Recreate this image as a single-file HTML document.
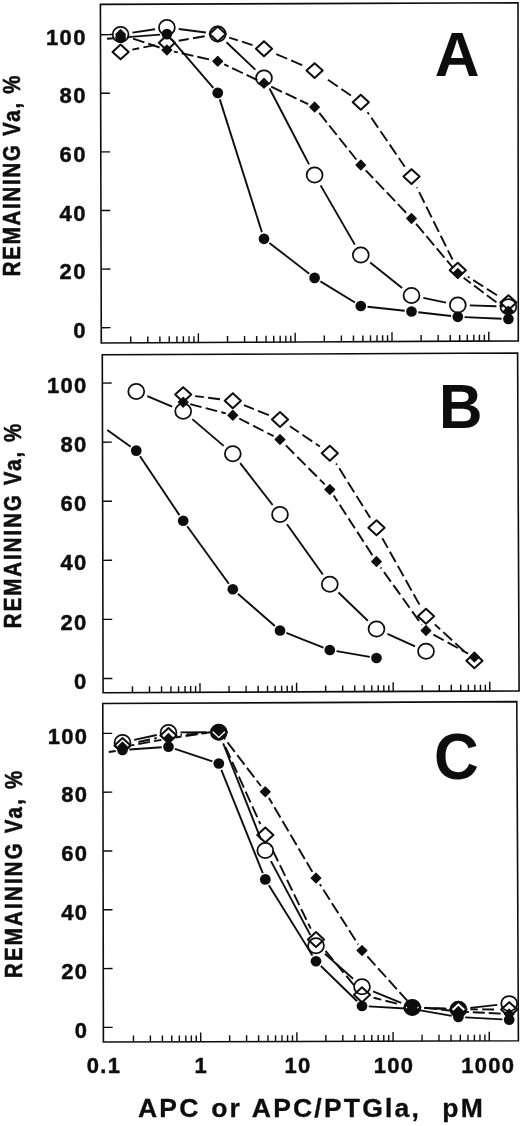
<!DOCTYPE html>
<html><head><meta charset="utf-8"><title>Figure</title>
<style>
html,body{margin:0;padding:0;background:#fff;}
body{width:520px;height:1126px;overflow:hidden;}
svg{display:block;will-change:transform;}
text{font-family:"Liberation Sans", sans-serif;font-weight:bold;fill:#0c0c0c;}
text{stroke:#0c0c0c;stroke-width:0.45px;stroke-linejoin:round;}
.tl{font-size:22px;letter-spacing:1.3px;}
.xl{font-size:22px;letter-spacing:1.3px;}
.pl{font-size:64px;stroke-width:0;}
.yt{font-size:24px;stroke-width:0.6px;}
.xt{font-size:26.5px;letter-spacing:2.2px;word-spacing:1.1px;stroke-width:0.3px;}
</style></head><body>
<svg width="520" height="1126" viewBox="0 0 520 1126">
<defs><filter id="soft" x="0" y="0" width="520" height="1126" filterUnits="userSpaceOnUse"><feGaussianBlur stdDeviation="0.4"/></filter></defs>
<rect width="520" height="1126" fill="#fff"/>
<g filter="url(#soft)">
<polygon points="100.40,4.40 518.00,2.80 518.30,340.90 101.30,343.00" fill="none" stroke="#0c0c0c" stroke-width="1.60" stroke-linejoin="miter"/>
<line x1="101.26" y1="327.70" x2="110.56" y2="327.65" stroke="#0c0c0c" stroke-width="1.4"/>
<text x="86.70" y="337.80" text-anchor="end" class="tl">0</text>
<line x1="101.10" y1="269.10" x2="110.40" y2="269.05" stroke="#0c0c0c" stroke-width="1.4"/>
<text x="86.70" y="279.20" text-anchor="end" class="tl">20</text>
<line x1="100.95" y1="210.50" x2="110.25" y2="210.45" stroke="#0c0c0c" stroke-width="1.4"/>
<text x="86.70" y="220.60" text-anchor="end" class="tl">40</text>
<line x1="100.79" y1="151.90" x2="110.09" y2="151.85" stroke="#0c0c0c" stroke-width="1.4"/>
<text x="86.70" y="162.00" text-anchor="end" class="tl">60</text>
<line x1="100.64" y1="93.30" x2="109.94" y2="93.25" stroke="#0c0c0c" stroke-width="1.4"/>
<text x="86.70" y="103.40" text-anchor="end" class="tl">80</text>
<line x1="100.48" y1="34.70" x2="109.78" y2="34.65" stroke="#0c0c0c" stroke-width="1.4"/>
<text x="86.70" y="44.80" text-anchor="end" class="tl">100</text>
<line x1="130.74" y1="342.85" x2="130.72" y2="336.55" stroke="#0c0c0c" stroke-width="1.4"/>
<line x1="147.79" y1="342.77" x2="147.77" y2="336.47" stroke="#0c0c0c" stroke-width="1.4"/>
<line x1="159.88" y1="342.70" x2="159.86" y2="336.40" stroke="#0c0c0c" stroke-width="1.4"/>
<line x1="169.26" y1="342.66" x2="169.24" y2="336.36" stroke="#0c0c0c" stroke-width="1.4"/>
<line x1="176.93" y1="342.62" x2="176.91" y2="336.32" stroke="#0c0c0c" stroke-width="1.4"/>
<line x1="183.41" y1="342.59" x2="183.39" y2="336.29" stroke="#0c0c0c" stroke-width="1.4"/>
<line x1="189.02" y1="342.56" x2="189.00" y2="336.26" stroke="#0c0c0c" stroke-width="1.4"/>
<line x1="193.97" y1="342.53" x2="193.95" y2="336.23" stroke="#0c0c0c" stroke-width="1.4"/>
<line x1="198.40" y1="342.51" x2="198.38" y2="333.31" stroke="#0c0c0c" stroke-width="1.4"/>
<line x1="227.54" y1="342.36" x2="227.52" y2="336.06" stroke="#0c0c0c" stroke-width="1.4"/>
<line x1="244.59" y1="342.28" x2="244.57" y2="335.98" stroke="#0c0c0c" stroke-width="1.4"/>
<line x1="256.68" y1="342.22" x2="256.66" y2="335.92" stroke="#0c0c0c" stroke-width="1.4"/>
<line x1="266.06" y1="342.17" x2="266.04" y2="335.87" stroke="#0c0c0c" stroke-width="1.4"/>
<line x1="273.73" y1="342.13" x2="273.71" y2="335.83" stroke="#0c0c0c" stroke-width="1.4"/>
<line x1="280.21" y1="342.10" x2="280.19" y2="335.80" stroke="#0c0c0c" stroke-width="1.4"/>
<line x1="285.82" y1="342.07" x2="285.80" y2="335.77" stroke="#0c0c0c" stroke-width="1.4"/>
<line x1="290.77" y1="342.05" x2="290.75" y2="335.75" stroke="#0c0c0c" stroke-width="1.4"/>
<line x1="295.20" y1="342.02" x2="295.18" y2="332.82" stroke="#0c0c0c" stroke-width="1.4"/>
<line x1="324.34" y1="341.88" x2="324.32" y2="335.58" stroke="#0c0c0c" stroke-width="1.4"/>
<line x1="341.39" y1="341.79" x2="341.37" y2="335.49" stroke="#0c0c0c" stroke-width="1.4"/>
<line x1="353.48" y1="341.73" x2="353.46" y2="335.43" stroke="#0c0c0c" stroke-width="1.4"/>
<line x1="362.86" y1="341.68" x2="362.84" y2="335.38" stroke="#0c0c0c" stroke-width="1.4"/>
<line x1="370.53" y1="341.64" x2="370.51" y2="335.34" stroke="#0c0c0c" stroke-width="1.4"/>
<line x1="377.01" y1="341.61" x2="376.99" y2="335.31" stroke="#0c0c0c" stroke-width="1.4"/>
<line x1="382.62" y1="341.58" x2="382.60" y2="335.28" stroke="#0c0c0c" stroke-width="1.4"/>
<line x1="387.57" y1="341.56" x2="387.55" y2="335.26" stroke="#0c0c0c" stroke-width="1.4"/>
<line x1="392.00" y1="341.54" x2="391.98" y2="332.34" stroke="#0c0c0c" stroke-width="1.4"/>
<line x1="421.14" y1="341.39" x2="421.12" y2="335.09" stroke="#0c0c0c" stroke-width="1.4"/>
<line x1="438.19" y1="341.30" x2="438.17" y2="335.00" stroke="#0c0c0c" stroke-width="1.4"/>
<line x1="450.28" y1="341.24" x2="450.26" y2="334.94" stroke="#0c0c0c" stroke-width="1.4"/>
<line x1="459.66" y1="341.20" x2="459.64" y2="334.90" stroke="#0c0c0c" stroke-width="1.4"/>
<line x1="467.33" y1="341.16" x2="467.31" y2="334.86" stroke="#0c0c0c" stroke-width="1.4"/>
<line x1="473.81" y1="341.12" x2="473.79" y2="334.82" stroke="#0c0c0c" stroke-width="1.4"/>
<line x1="479.42" y1="341.10" x2="479.40" y2="334.80" stroke="#0c0c0c" stroke-width="1.4"/>
<line x1="484.37" y1="341.07" x2="484.35" y2="334.77" stroke="#0c0c0c" stroke-width="1.4"/>
<line x1="488.80" y1="341.05" x2="488.78" y2="331.85" stroke="#0c0c0c" stroke-width="1.4"/>
<line x1="132.47" y1="32.63" x2="155.03" y2="29.27" stroke="#0c0c0c" stroke-width="1.90"/>
<line x1="178.80" y1="29.02" x2="205.85" y2="32.48" stroke="#0c0c0c" stroke-width="1.90"/>
<line x1="226.45" y1="42.26" x2="255.30" y2="69.64" stroke="#0c0c0c" stroke-width="1.90"/>
<line x1="269.55" y1="88.54" x2="309.05" y2="164.36" stroke="#0c0c0c" stroke-width="1.90"/>
<line x1="320.60" y1="185.39" x2="354.80" y2="244.61" stroke="#0c0c0c" stroke-width="1.90"/>
<line x1="370.18" y1="262.49" x2="402.12" y2="288.01" stroke="#0c0c0c" stroke-width="1.90"/>
<line x1="423.26" y1="297.91" x2="446.04" y2="302.59" stroke="#0c0c0c" stroke-width="1.90"/>
<line x1="469.79" y1="305.40" x2="496.41" y2="306.30" stroke="#0c0c0c" stroke-width="1.90"/>
<line x1="107.00" y1="38.70" x2="113.82" y2="38.20" stroke="#0c0c0c" stroke-width="1.90"/>
<line x1="127.38" y1="37.17" x2="160.12" y2="34.63" stroke="#0c0c0c" stroke-width="1.90"/>
<line x1="171.35" y1="39.24" x2="213.30" y2="87.76" stroke="#0c0c0c" stroke-width="1.90"/>
<line x1="219.80" y1="99.38" x2="261.95" y2="232.32" stroke="#0c0c0c" stroke-width="1.90"/>
<line x1="269.38" y1="242.96" x2="309.22" y2="273.74" stroke="#0c0c0c" stroke-width="1.90"/>
<line x1="320.41" y1="281.43" x2="354.99" y2="302.47" stroke="#0c0c0c" stroke-width="1.90"/>
<line x1="367.56" y1="306.73" x2="404.74" y2="310.77" stroke="#0c0c0c" stroke-width="1.90"/>
<line x1="418.26" y1="312.27" x2="451.04" y2="316.03" stroke="#0c0c0c" stroke-width="1.90"/>
<line x1="464.59" y1="317.10" x2="501.61" y2="318.70" stroke="#0c0c0c" stroke-width="1.90"/>
<line x1="127.42" y1="36.70" x2="160.08" y2="47.70" stroke="#0c0c0c" stroke-width="1.90" stroke-dasharray="12.00 4.00" stroke-dashoffset="10.10"/>
<line x1="173.93" y1="51.56" x2="210.72" y2="59.69" stroke="#0c0c0c" stroke-width="1.90" stroke-dasharray="12.00 4.00" stroke-dashoffset="8.06"/>
<line x1="224.25" y1="64.35" x2="257.50" y2="80.20" stroke="#0c0c0c" stroke-width="1.90" stroke-dasharray="12.00 4.00" stroke-dashoffset="7.30"/>
<line x1="270.52" y1="86.36" x2="308.08" y2="104.04" stroke="#0c0c0c" stroke-width="1.90" stroke-dasharray="12.00 4.00" stroke-dashoffset="15.30"/>
<line x1="319.09" y1="112.73" x2="356.31" y2="159.47" stroke="#0c0c0c" stroke-width="1.90" stroke-dasharray="12.00 4.00" stroke-dashoffset="15.70"/>
<line x1="365.76" y1="170.32" x2="406.54" y2="213.18" stroke="#0c0c0c" stroke-width="1.90" stroke-dasharray="12.00 4.00" stroke-dashoffset="1.44"/>
<line x1="416.13" y1="223.91" x2="453.17" y2="267.99" stroke="#0c0c0c" stroke-width="1.90" stroke-dasharray="12.00 4.00" stroke-dashoffset="0.00"/>
<line x1="463.57" y1="277.80" x2="502.63" y2="306.90" stroke="#0c0c0c" stroke-width="1.90" stroke-dasharray="12.00 4.00" stroke-dashoffset="2.98"/>
<line x1="132.37" y1="49.57" x2="155.13" y2="45.08" stroke="#0c0c0c" stroke-width="1.90" stroke-dasharray="11.90 4.35" stroke-dashoffset="5.00"/>
<line x1="178.73" y1="40.72" x2="205.92" y2="36.03" stroke="#0c0c0c" stroke-width="1.90" stroke-dasharray="11.90 4.35" stroke-dashoffset="1.80"/>
<line x1="229.19" y1="37.63" x2="252.56" y2="45.07" stroke="#0c0c0c" stroke-width="1.90" stroke-dasharray="11.90 4.35" stroke-dashoffset="2.80"/>
<line x1="275.01" y1="53.47" x2="303.59" y2="65.83" stroke="#0c0c0c" stroke-width="1.90" stroke-dasharray="11.90 4.35" stroke-dashoffset="14.85"/>
<line x1="324.49" y1="77.39" x2="350.91" y2="95.51" stroke="#0c0c0c" stroke-width="1.90" stroke-dasharray="11.90 4.35" stroke-dashoffset="12.05"/>
<line x1="367.56" y1="112.21" x2="404.74" y2="166.69" stroke="#0c0c0c" stroke-width="1.90" stroke-dasharray="11.90 4.35" stroke-dashoffset="9.50"/>
<line x1="416.82" y1="187.36" x2="452.48" y2="259.54" stroke="#0c0c0c" stroke-width="1.90" stroke-dasharray="11.90 4.35" stroke-dashoffset="11.00"/>
<line x1="467.91" y1="276.76" x2="498.29" y2="296.14" stroke="#0c0c0c" stroke-width="1.90" stroke-dasharray="11.90 4.35" stroke-dashoffset="9.95"/>
<ellipse cx="120.60" cy="34.40" rx="7.95" ry="7.6" fill="none" stroke="#0c0c0c" stroke-width="1.75"/>
<ellipse cx="166.90" cy="27.50" rx="7.95" ry="7.6" fill="none" stroke="#0c0c0c" stroke-width="1.75"/>
<ellipse cx="217.75" cy="34.00" rx="7.95" ry="7.6" fill="none" stroke="#0c0c0c" stroke-width="1.75"/>
<ellipse cx="264.00" cy="77.90" rx="7.95" ry="7.6" fill="none" stroke="#0c0c0c" stroke-width="1.75"/>
<ellipse cx="314.60" cy="175.00" rx="7.95" ry="7.6" fill="none" stroke="#0c0c0c" stroke-width="1.75"/>
<ellipse cx="360.80" cy="255.00" rx="7.95" ry="7.6" fill="none" stroke="#0c0c0c" stroke-width="1.75"/>
<ellipse cx="411.50" cy="295.50" rx="7.95" ry="7.6" fill="none" stroke="#0c0c0c" stroke-width="1.75"/>
<ellipse cx="457.80" cy="305.00" rx="7.95" ry="7.6" fill="none" stroke="#0c0c0c" stroke-width="1.75"/>
<ellipse cx="508.40" cy="306.70" rx="7.95" ry="7.6" fill="none" stroke="#0c0c0c" stroke-width="1.75"/>
<polygon points="120.60,44.45 128.70,51.90 120.60,59.35 112.50,51.90" fill="none" stroke="#0c0c0c" stroke-width="2.0" stroke-linejoin="round"/>
<polygon points="166.90,35.30 175.00,42.75 166.90,50.20 158.80,42.75" fill="none" stroke="#0c0c0c" stroke-width="2.0" stroke-linejoin="round"/>
<polygon points="217.75,26.55 225.85,34.00 217.75,41.45 209.65,34.00" fill="none" stroke="#0c0c0c" stroke-width="2.0" stroke-linejoin="round"/>
<polygon points="264.00,41.25 272.10,48.70 264.00,56.15 255.90,48.70" fill="none" stroke="#0c0c0c" stroke-width="2.0" stroke-linejoin="round"/>
<polygon points="314.60,63.15 322.70,70.60 314.60,78.05 306.50,70.60" fill="none" stroke="#0c0c0c" stroke-width="2.0" stroke-linejoin="round"/>
<polygon points="360.80,94.85 368.90,102.30 360.80,109.75 352.70,102.30" fill="none" stroke="#0c0c0c" stroke-width="2.0" stroke-linejoin="round"/>
<polygon points="411.50,169.15 419.60,176.60 411.50,184.05 403.40,176.60" fill="none" stroke="#0c0c0c" stroke-width="2.0" stroke-linejoin="round"/>
<polygon points="457.80,262.85 465.90,270.30 457.80,277.75 449.70,270.30" fill="none" stroke="#0c0c0c" stroke-width="2.0" stroke-linejoin="round"/>
<polygon points="508.40,295.15 516.50,302.60 508.40,310.05 500.30,302.60" fill="none" stroke="#0c0c0c" stroke-width="2.0" stroke-linejoin="round"/>
<polygon points="120.60,29.60 125.40,34.40 120.60,39.20 115.80,34.40" fill="#0c0c0c" stroke="#0c0c0c" stroke-width="1.3" stroke-linejoin="round"/>
<polygon points="166.90,45.20 171.70,50.00 166.90,54.80 162.10,50.00" fill="#0c0c0c" stroke="#0c0c0c" stroke-width="1.3" stroke-linejoin="round"/>
<polygon points="217.75,56.45 222.55,61.25 217.75,66.05 212.95,61.25" fill="#0c0c0c" stroke="#0c0c0c" stroke-width="1.3" stroke-linejoin="round"/>
<polygon points="264.00,78.50 268.80,83.30 264.00,88.10 259.20,83.30" fill="#0c0c0c" stroke="#0c0c0c" stroke-width="1.3" stroke-linejoin="round"/>
<polygon points="314.60,102.30 319.40,107.10 314.60,111.90 309.80,107.10" fill="#0c0c0c" stroke="#0c0c0c" stroke-width="1.3" stroke-linejoin="round"/>
<polygon points="360.80,160.30 365.60,165.10 360.80,169.90 356.00,165.10" fill="#0c0c0c" stroke="#0c0c0c" stroke-width="1.3" stroke-linejoin="round"/>
<polygon points="411.50,213.60 416.30,218.40 411.50,223.20 406.70,218.40" fill="#0c0c0c" stroke="#0c0c0c" stroke-width="1.3" stroke-linejoin="round"/>
<polygon points="457.80,268.70 462.60,273.50 457.80,278.30 453.00,273.50" fill="#0c0c0c" stroke="#0c0c0c" stroke-width="1.3" stroke-linejoin="round"/>
<polygon points="508.40,306.40 513.20,311.20 508.40,316.00 503.60,311.20" fill="#0c0c0c" stroke="#0c0c0c" stroke-width="1.3" stroke-linejoin="round"/>
<circle cx="120.60" cy="37.70" r="5.35" fill="#0c0c0c"/>
<circle cx="166.90" cy="34.10" r="5.35" fill="#0c0c0c"/>
<circle cx="217.75" cy="92.90" r="5.35" fill="#0c0c0c"/>
<circle cx="264.00" cy="238.80" r="5.35" fill="#0c0c0c"/>
<circle cx="314.60" cy="277.90" r="5.35" fill="#0c0c0c"/>
<circle cx="360.80" cy="306.00" r="5.35" fill="#0c0c0c"/>
<circle cx="411.50" cy="311.50" r="5.35" fill="#0c0c0c"/>
<circle cx="457.80" cy="316.80" r="5.35" fill="#0c0c0c"/>
<circle cx="508.40" cy="319.00" r="5.35" fill="#0c0c0c"/>
<polygon points="102.30,354.80 517.60,353.00 519.10,690.85 103.10,692.80" fill="none" stroke="#0c0c0c" stroke-width="1.60" stroke-linejoin="miter"/>
<line x1="103.07" y1="678.50" x2="112.37" y2="678.46" stroke="#0c0c0c" stroke-width="1.4"/>
<text x="87.50" y="688.60" text-anchor="end" class="tl">0</text>
<line x1="102.93" y1="619.42" x2="112.23" y2="619.38" stroke="#0c0c0c" stroke-width="1.4"/>
<text x="87.50" y="629.52" text-anchor="end" class="tl">20</text>
<line x1="102.79" y1="560.34" x2="112.09" y2="560.30" stroke="#0c0c0c" stroke-width="1.4"/>
<text x="87.50" y="570.44" text-anchor="end" class="tl">40</text>
<line x1="102.65" y1="501.26" x2="111.95" y2="501.22" stroke="#0c0c0c" stroke-width="1.4"/>
<text x="87.50" y="511.36" text-anchor="end" class="tl">60</text>
<line x1="102.51" y1="442.18" x2="111.81" y2="442.14" stroke="#0c0c0c" stroke-width="1.4"/>
<text x="87.50" y="452.28" text-anchor="end" class="tl">80</text>
<line x1="102.37" y1="383.10" x2="111.67" y2="383.06" stroke="#0c0c0c" stroke-width="1.4"/>
<text x="87.50" y="393.20" text-anchor="end" class="tl">100</text>
<line x1="132.48" y1="692.66" x2="132.46" y2="686.36" stroke="#0c0c0c" stroke-width="1.4"/>
<line x1="149.49" y1="692.58" x2="149.48" y2="686.28" stroke="#0c0c0c" stroke-width="1.4"/>
<line x1="161.56" y1="692.53" x2="161.54" y2="686.23" stroke="#0c0c0c" stroke-width="1.4"/>
<line x1="170.92" y1="692.48" x2="170.91" y2="686.18" stroke="#0c0c0c" stroke-width="1.4"/>
<line x1="178.57" y1="692.45" x2="178.55" y2="686.15" stroke="#0c0c0c" stroke-width="1.4"/>
<line x1="185.04" y1="692.42" x2="185.02" y2="686.12" stroke="#0c0c0c" stroke-width="1.4"/>
<line x1="190.64" y1="692.39" x2="190.62" y2="686.09" stroke="#0c0c0c" stroke-width="1.4"/>
<line x1="195.58" y1="692.37" x2="195.56" y2="686.07" stroke="#0c0c0c" stroke-width="1.4"/>
<line x1="200.00" y1="692.35" x2="199.98" y2="683.15" stroke="#0c0c0c" stroke-width="1.4"/>
<line x1="229.08" y1="692.21" x2="229.06" y2="685.91" stroke="#0c0c0c" stroke-width="1.4"/>
<line x1="246.09" y1="692.13" x2="246.08" y2="685.83" stroke="#0c0c0c" stroke-width="1.4"/>
<line x1="258.16" y1="692.07" x2="258.14" y2="685.77" stroke="#0c0c0c" stroke-width="1.4"/>
<line x1="267.52" y1="692.03" x2="267.51" y2="685.73" stroke="#0c0c0c" stroke-width="1.4"/>
<line x1="275.17" y1="691.99" x2="275.15" y2="685.69" stroke="#0c0c0c" stroke-width="1.4"/>
<line x1="281.64" y1="691.96" x2="281.62" y2="685.66" stroke="#0c0c0c" stroke-width="1.4"/>
<line x1="287.24" y1="691.94" x2="287.22" y2="685.64" stroke="#0c0c0c" stroke-width="1.4"/>
<line x1="292.18" y1="691.91" x2="292.16" y2="685.61" stroke="#0c0c0c" stroke-width="1.4"/>
<line x1="296.60" y1="691.89" x2="296.58" y2="682.69" stroke="#0c0c0c" stroke-width="1.4"/>
<line x1="325.68" y1="691.76" x2="325.66" y2="685.46" stroke="#0c0c0c" stroke-width="1.4"/>
<line x1="342.69" y1="691.68" x2="342.68" y2="685.38" stroke="#0c0c0c" stroke-width="1.4"/>
<line x1="354.76" y1="691.62" x2="354.74" y2="685.32" stroke="#0c0c0c" stroke-width="1.4"/>
<line x1="364.12" y1="691.58" x2="364.11" y2="685.28" stroke="#0c0c0c" stroke-width="1.4"/>
<line x1="371.77" y1="691.54" x2="371.75" y2="685.24" stroke="#0c0c0c" stroke-width="1.4"/>
<line x1="378.24" y1="691.51" x2="378.22" y2="685.21" stroke="#0c0c0c" stroke-width="1.4"/>
<line x1="383.84" y1="691.48" x2="383.82" y2="685.18" stroke="#0c0c0c" stroke-width="1.4"/>
<line x1="388.78" y1="691.46" x2="388.76" y2="685.16" stroke="#0c0c0c" stroke-width="1.4"/>
<line x1="393.20" y1="691.44" x2="393.18" y2="682.24" stroke="#0c0c0c" stroke-width="1.4"/>
<line x1="422.28" y1="691.30" x2="422.26" y2="685.00" stroke="#0c0c0c" stroke-width="1.4"/>
<line x1="439.29" y1="691.22" x2="439.28" y2="684.92" stroke="#0c0c0c" stroke-width="1.4"/>
<line x1="451.36" y1="691.17" x2="451.34" y2="684.87" stroke="#0c0c0c" stroke-width="1.4"/>
<line x1="460.72" y1="691.12" x2="460.71" y2="684.82" stroke="#0c0c0c" stroke-width="1.4"/>
<line x1="468.37" y1="691.09" x2="468.35" y2="684.79" stroke="#0c0c0c" stroke-width="1.4"/>
<line x1="474.84" y1="691.06" x2="474.82" y2="684.76" stroke="#0c0c0c" stroke-width="1.4"/>
<line x1="480.44" y1="691.03" x2="480.42" y2="684.73" stroke="#0c0c0c" stroke-width="1.4"/>
<line x1="485.38" y1="691.01" x2="485.36" y2="684.71" stroke="#0c0c0c" stroke-width="1.4"/>
<line x1="489.80" y1="690.99" x2="489.78" y2="681.79" stroke="#0c0c0c" stroke-width="1.4"/>
<line x1="147.31" y1="396.16" x2="172.14" y2="406.64" stroke="#0c0c0c" stroke-width="1.90"/>
<line x1="192.32" y1="419.10" x2="223.68" y2="445.90" stroke="#0c0c0c" stroke-width="1.90"/>
<line x1="240.16" y1="463.18" x2="272.64" y2="505.02" stroke="#0c0c0c" stroke-width="1.90"/>
<line x1="286.98" y1="524.26" x2="322.82" y2="574.44" stroke="#0c0c0c" stroke-width="1.90"/>
<line x1="338.46" y1="592.51" x2="367.84" y2="620.69" stroke="#0c0c0c" stroke-width="1.90"/>
<line x1="387.44" y1="633.93" x2="415.06" y2="646.37" stroke="#0c0c0c" stroke-width="1.90"/>
<line x1="107.25" y1="430.00" x2="130.71" y2="446.66" stroke="#0c0c0c" stroke-width="1.90"/>
<line x1="140.03" y1="456.25" x2="179.42" y2="515.10" stroke="#0c0c0c" stroke-width="1.90"/>
<line x1="187.19" y1="526.26" x2="228.81" y2="583.74" stroke="#0c0c0c" stroke-width="1.90"/>
<line x1="237.92" y1="593.72" x2="274.88" y2="626.03" stroke="#0c0c0c" stroke-width="1.90"/>
<line x1="286.33" y1="632.98" x2="323.47" y2="647.52" stroke="#0c0c0c" stroke-width="1.90"/>
<line x1="336.50" y1="651.15" x2="369.80" y2="656.85" stroke="#0c0c0c" stroke-width="1.90"/>
<line x1="190.17" y1="404.11" x2="225.83" y2="413.39" stroke="#0c0c0c" stroke-width="1.90" stroke-dasharray="11.70 4.40" stroke-dashoffset="0.00"/>
<line x1="239.20" y1="418.50" x2="273.60" y2="436.20" stroke="#0c0c0c" stroke-width="1.90" stroke-dasharray="11.70 4.40" stroke-dashoffset="0.50"/>
<line x1="285.08" y1="444.60" x2="324.72" y2="484.40" stroke="#0c0c0c" stroke-width="1.90" stroke-dasharray="11.70 4.40" stroke-dashoffset="14.94"/>
<line x1="333.71" y1="495.54" x2="372.59" y2="555.56" stroke="#0c0c0c" stroke-width="1.90" stroke-dasharray="11.70 4.40" stroke-dashoffset="5.01"/>
<line x1="380.70" y1="567.45" x2="421.80" y2="624.75" stroke="#0c0c0c" stroke-width="1.90" stroke-dasharray="11.70 4.40" stroke-dashoffset="10.41"/>
<line x1="432.32" y1="634.05" x2="468.08" y2="653.55" stroke="#0c0c0c" stroke-width="1.90" stroke-dasharray="11.70 4.40" stroke-dashoffset="14.83"/>
<line x1="195.11" y1="396.09" x2="220.89" y2="399.31" stroke="#0c0c0c" stroke-width="1.90" stroke-dasharray="11.90 4.35" stroke-dashoffset="3.10"/>
<line x1="243.96" y1="405.22" x2="268.84" y2="415.08" stroke="#0c0c0c" stroke-width="1.90" stroke-dasharray="11.90 4.35" stroke-dashoffset="1.20"/>
<line x1="289.93" y1="426.23" x2="319.87" y2="446.52" stroke="#0c0c0c" stroke-width="1.90" stroke-dasharray="11.90 4.35" stroke-dashoffset="1.20"/>
<line x1="336.17" y1="463.42" x2="370.13" y2="517.63" stroke="#0c0c0c" stroke-width="1.90" stroke-dasharray="11.90 4.35" stroke-dashoffset="10.41"/>
<line x1="382.36" y1="538.27" x2="420.14" y2="605.83" stroke="#0c0c0c" stroke-width="1.90" stroke-dasharray="11.90 4.35" stroke-dashoffset="0.88"/>
<line x1="434.84" y1="624.41" x2="465.56" y2="652.59" stroke="#0c0c0c" stroke-width="1.90" stroke-dasharray="11.90 4.35" stroke-dashoffset="4.79"/>
<ellipse cx="136.25" cy="391.50" rx="7.95" ry="7.6" fill="none" stroke="#0c0c0c" stroke-width="1.75"/>
<ellipse cx="183.20" cy="411.30" rx="7.95" ry="7.6" fill="none" stroke="#0c0c0c" stroke-width="1.75"/>
<ellipse cx="232.80" cy="453.70" rx="7.95" ry="7.6" fill="none" stroke="#0c0c0c" stroke-width="1.75"/>
<ellipse cx="280.00" cy="514.50" rx="7.95" ry="7.6" fill="none" stroke="#0c0c0c" stroke-width="1.75"/>
<ellipse cx="329.80" cy="584.20" rx="7.95" ry="7.6" fill="none" stroke="#0c0c0c" stroke-width="1.75"/>
<ellipse cx="376.50" cy="629.00" rx="7.95" ry="7.6" fill="none" stroke="#0c0c0c" stroke-width="1.75"/>
<ellipse cx="426.00" cy="651.30" rx="7.95" ry="7.6" fill="none" stroke="#0c0c0c" stroke-width="1.75"/>
<polygon points="183.20,387.15 191.30,394.60 183.20,402.05 175.10,394.60" fill="none" stroke="#0c0c0c" stroke-width="2.0" stroke-linejoin="round"/>
<polygon points="232.80,393.35 240.90,400.80 232.80,408.25 224.70,400.80" fill="none" stroke="#0c0c0c" stroke-width="2.0" stroke-linejoin="round"/>
<polygon points="280.00,412.05 288.10,419.50 280.00,426.95 271.90,419.50" fill="none" stroke="#0c0c0c" stroke-width="2.0" stroke-linejoin="round"/>
<polygon points="329.80,445.80 337.90,453.25 329.80,460.70 321.70,453.25" fill="none" stroke="#0c0c0c" stroke-width="2.0" stroke-linejoin="round"/>
<polygon points="376.50,520.35 384.60,527.80 376.50,535.25 368.40,527.80" fill="none" stroke="#0c0c0c" stroke-width="2.0" stroke-linejoin="round"/>
<polygon points="426.00,608.85 434.10,616.30 426.00,623.75 417.90,616.30" fill="none" stroke="#0c0c0c" stroke-width="2.0" stroke-linejoin="round"/>
<polygon points="474.40,653.25 482.50,660.70 474.40,668.15 466.30,660.70" fill="none" stroke="#0c0c0c" stroke-width="2.0" stroke-linejoin="round"/>
<polygon points="183.20,397.50 188.00,402.30 183.20,407.10 178.40,402.30" fill="#0c0c0c" stroke="#0c0c0c" stroke-width="1.3" stroke-linejoin="round"/>
<polygon points="232.80,410.40 237.60,415.20 232.80,420.00 228.00,415.20" fill="#0c0c0c" stroke="#0c0c0c" stroke-width="1.3" stroke-linejoin="round"/>
<polygon points="280.00,434.70 284.80,439.50 280.00,444.30 275.20,439.50" fill="#0c0c0c" stroke="#0c0c0c" stroke-width="1.3" stroke-linejoin="round"/>
<polygon points="329.80,484.70 334.60,489.50 329.80,494.30 325.00,489.50" fill="#0c0c0c" stroke="#0c0c0c" stroke-width="1.3" stroke-linejoin="round"/>
<polygon points="376.50,556.80 381.30,561.60 376.50,566.40 371.70,561.60" fill="#0c0c0c" stroke="#0c0c0c" stroke-width="1.3" stroke-linejoin="round"/>
<polygon points="426.00,625.80 430.80,630.60 426.00,635.40 421.20,630.60" fill="#0c0c0c" stroke="#0c0c0c" stroke-width="1.3" stroke-linejoin="round"/>
<polygon points="474.40,652.20 479.20,657.00 474.40,661.80 469.60,657.00" fill="#0c0c0c" stroke="#0c0c0c" stroke-width="1.3" stroke-linejoin="round"/>
<circle cx="136.25" cy="450.60" r="5.35" fill="#0c0c0c"/>
<circle cx="183.20" cy="520.75" r="5.35" fill="#0c0c0c"/>
<circle cx="232.80" cy="589.25" r="5.35" fill="#0c0c0c"/>
<circle cx="280.00" cy="630.50" r="5.35" fill="#0c0c0c"/>
<circle cx="329.80" cy="650.00" r="5.35" fill="#0c0c0c"/>
<circle cx="376.50" cy="658.00" r="5.35" fill="#0c0c0c"/>
<polygon points="102.80,703.50 516.80,701.60 518.40,1040.80 103.40,1042.00" fill="none" stroke="#0c0c0c" stroke-width="1.60" stroke-linejoin="miter"/>
<line x1="103.37" y1="1027.40" x2="112.67" y2="1027.37" stroke="#0c0c0c" stroke-width="1.4"/>
<text x="88.30" y="1037.50" text-anchor="end" class="tl">0</text>
<line x1="103.27" y1="968.60" x2="112.57" y2="968.57" stroke="#0c0c0c" stroke-width="1.4"/>
<text x="88.30" y="978.70" text-anchor="end" class="tl">20</text>
<line x1="103.17" y1="909.80" x2="112.47" y2="909.77" stroke="#0c0c0c" stroke-width="1.4"/>
<text x="88.30" y="919.90" text-anchor="end" class="tl">40</text>
<line x1="103.06" y1="851.00" x2="112.36" y2="850.97" stroke="#0c0c0c" stroke-width="1.4"/>
<text x="88.30" y="861.10" text-anchor="end" class="tl">60</text>
<line x1="102.96" y1="792.20" x2="112.26" y2="792.17" stroke="#0c0c0c" stroke-width="1.4"/>
<text x="88.30" y="802.30" text-anchor="end" class="tl">80</text>
<line x1="102.85" y1="733.40" x2="112.15" y2="733.37" stroke="#0c0c0c" stroke-width="1.4"/>
<text x="88.30" y="743.50" text-anchor="end" class="tl">100</text>
<line x1="133.46" y1="1041.91" x2="133.45" y2="1035.61" stroke="#0c0c0c" stroke-width="1.4"/>
<line x1="150.40" y1="1041.86" x2="150.39" y2="1035.56" stroke="#0c0c0c" stroke-width="1.4"/>
<line x1="162.42" y1="1041.83" x2="162.41" y2="1035.53" stroke="#0c0c0c" stroke-width="1.4"/>
<line x1="171.74" y1="1041.80" x2="171.73" y2="1035.50" stroke="#0c0c0c" stroke-width="1.4"/>
<line x1="179.36" y1="1041.78" x2="179.35" y2="1035.48" stroke="#0c0c0c" stroke-width="1.4"/>
<line x1="185.80" y1="1041.76" x2="185.79" y2="1035.46" stroke="#0c0c0c" stroke-width="1.4"/>
<line x1="191.38" y1="1041.75" x2="191.37" y2="1035.45" stroke="#0c0c0c" stroke-width="1.4"/>
<line x1="196.30" y1="1041.73" x2="196.29" y2="1035.43" stroke="#0c0c0c" stroke-width="1.4"/>
<line x1="200.70" y1="1041.72" x2="200.68" y2="1032.52" stroke="#0c0c0c" stroke-width="1.4"/>
<line x1="229.66" y1="1041.63" x2="229.65" y2="1035.33" stroke="#0c0c0c" stroke-width="1.4"/>
<line x1="246.60" y1="1041.59" x2="246.59" y2="1035.29" stroke="#0c0c0c" stroke-width="1.4"/>
<line x1="258.62" y1="1041.55" x2="258.61" y2="1035.25" stroke="#0c0c0c" stroke-width="1.4"/>
<line x1="267.94" y1="1041.52" x2="267.93" y2="1035.22" stroke="#0c0c0c" stroke-width="1.4"/>
<line x1="275.56" y1="1041.50" x2="275.55" y2="1035.20" stroke="#0c0c0c" stroke-width="1.4"/>
<line x1="282.00" y1="1041.48" x2="281.99" y2="1035.18" stroke="#0c0c0c" stroke-width="1.4"/>
<line x1="287.58" y1="1041.47" x2="287.57" y2="1035.17" stroke="#0c0c0c" stroke-width="1.4"/>
<line x1="292.50" y1="1041.45" x2="292.49" y2="1035.15" stroke="#0c0c0c" stroke-width="1.4"/>
<line x1="296.90" y1="1041.44" x2="296.88" y2="1032.24" stroke="#0c0c0c" stroke-width="1.4"/>
<line x1="325.86" y1="1041.36" x2="325.85" y2="1035.06" stroke="#0c0c0c" stroke-width="1.4"/>
<line x1="342.80" y1="1041.31" x2="342.79" y2="1035.01" stroke="#0c0c0c" stroke-width="1.4"/>
<line x1="354.82" y1="1041.27" x2="354.81" y2="1034.97" stroke="#0c0c0c" stroke-width="1.4"/>
<line x1="364.14" y1="1041.25" x2="364.13" y2="1034.95" stroke="#0c0c0c" stroke-width="1.4"/>
<line x1="371.76" y1="1041.22" x2="371.75" y2="1034.92" stroke="#0c0c0c" stroke-width="1.4"/>
<line x1="378.20" y1="1041.21" x2="378.19" y2="1034.91" stroke="#0c0c0c" stroke-width="1.4"/>
<line x1="383.78" y1="1041.19" x2="383.77" y2="1034.89" stroke="#0c0c0c" stroke-width="1.4"/>
<line x1="388.70" y1="1041.18" x2="388.69" y2="1034.88" stroke="#0c0c0c" stroke-width="1.4"/>
<line x1="393.10" y1="1041.16" x2="393.08" y2="1031.96" stroke="#0c0c0c" stroke-width="1.4"/>
<line x1="422.06" y1="1041.08" x2="422.05" y2="1034.78" stroke="#0c0c0c" stroke-width="1.4"/>
<line x1="439.00" y1="1041.03" x2="438.99" y2="1034.73" stroke="#0c0c0c" stroke-width="1.4"/>
<line x1="451.02" y1="1040.99" x2="451.01" y2="1034.69" stroke="#0c0c0c" stroke-width="1.4"/>
<line x1="460.34" y1="1040.97" x2="460.33" y2="1034.67" stroke="#0c0c0c" stroke-width="1.4"/>
<line x1="467.96" y1="1040.95" x2="467.95" y2="1034.65" stroke="#0c0c0c" stroke-width="1.4"/>
<line x1="474.40" y1="1040.93" x2="474.39" y2="1034.63" stroke="#0c0c0c" stroke-width="1.4"/>
<line x1="479.98" y1="1040.91" x2="479.97" y2="1034.61" stroke="#0c0c0c" stroke-width="1.4"/>
<line x1="484.90" y1="1040.90" x2="484.89" y2="1034.60" stroke="#0c0c0c" stroke-width="1.4"/>
<line x1="489.30" y1="1040.88" x2="489.28" y2="1031.68" stroke="#0c0c0c" stroke-width="1.4"/>
<line x1="134.22" y1="739.93" x2="156.78" y2="734.97" stroke="#0c0c0c" stroke-width="1.90"/>
<line x1="180.50" y1="732.38" x2="206.80" y2="732.32" stroke="#0c0c0c" stroke-width="1.90"/>
<line x1="223.19" y1="743.47" x2="260.91" y2="839.33" stroke="#0c0c0c" stroke-width="1.90"/>
<line x1="270.94" y1="861.09" x2="310.36" y2="935.16" stroke="#0c0c0c" stroke-width="1.90"/>
<line x1="324.95" y1="953.74" x2="353.05" y2="978.81" stroke="#0c0c0c" stroke-width="1.90"/>
<line x1="373.10" y1="991.37" x2="401.20" y2="1002.93" stroke="#0c0c0c" stroke-width="1.90"/>
<line x1="424.29" y1="1007.94" x2="446.41" y2="1008.76" stroke="#0c0c0c" stroke-width="1.90"/>
<line x1="470.33" y1="1007.89" x2="497.27" y2="1004.91" stroke="#0c0c0c" stroke-width="1.90"/>
<line x1="134.23" y1="742.95" x2="156.77" y2="738.05" stroke="#0c0c0c" stroke-width="1.90" stroke-dasharray="11.90 4.35" stroke-dashoffset="12.00"/>
<line x1="180.48" y1="734.74" x2="206.82" y2="733.06" stroke="#0c0c0c" stroke-width="1.90" stroke-dasharray="11.90 4.35" stroke-dashoffset="10.32"/>
<line x1="223.75" y1="743.23" x2="260.35" y2="824.07" stroke="#0c0c0c" stroke-width="1.90" stroke-dasharray="11.90 4.35" stroke-dashoffset="11.98"/>
<line x1="270.54" y1="845.80" x2="310.76" y2="928.70" stroke="#0c0c0c" stroke-width="1.90" stroke-dasharray="11.90 4.35" stroke-dashoffset="10.96"/>
<line x1="323.67" y1="948.73" x2="354.33" y2="985.57" stroke="#0c0c0c" stroke-width="1.90" stroke-dasharray="11.90 4.35" stroke-dashoffset="13.36"/>
<line x1="373.63" y1="997.74" x2="400.67" y2="1004.56" stroke="#0c0c0c" stroke-width="1.90" stroke-dasharray="11.90 4.35" stroke-dashoffset="4.04"/>
<line x1="424.29" y1="1007.94" x2="446.41" y2="1008.76" stroke="#0c0c0c" stroke-width="1.90" stroke-dasharray="11.90 4.35" stroke-dashoffset="7.17"/>
<line x1="470.40" y1="1009.29" x2="497.20" y2="1009.51" stroke="#0c0c0c" stroke-width="1.90" stroke-dasharray="11.90 4.35" stroke-dashoffset="4.55"/>
<line x1="129.58" y1="745.69" x2="161.42" y2="739.81" stroke="#0c0c0c" stroke-width="1.90" stroke-dasharray="12.00 4.00" stroke-dashoffset="7.20"/>
<line x1="175.62" y1="737.44" x2="211.68" y2="732.06" stroke="#0c0c0c" stroke-width="1.90" stroke-dasharray="12.00 4.00" stroke-dashoffset="5.98"/>
<line x1="223.18" y1="736.72" x2="260.92" y2="786.03" stroke="#0c0c0c" stroke-width="1.90" stroke-dasharray="12.00 4.00" stroke-dashoffset="8.83"/>
<line x1="268.95" y1="797.96" x2="312.35" y2="871.89" stroke="#0c0c0c" stroke-width="1.90" stroke-dasharray="12.00 4.00" stroke-dashoffset="5.34"/>
<line x1="319.86" y1="884.18" x2="358.14" y2="944.42" stroke="#0c0c0c" stroke-width="1.90" stroke-dasharray="12.00 4.00" stroke-dashoffset="9.47"/>
<line x1="366.82" y1="955.85" x2="407.48" y2="1000.95" stroke="#0c0c0c" stroke-width="1.90" stroke-dasharray="12.00 4.00" stroke-dashoffset="15.25"/>
<line x1="419.45" y1="1007.11" x2="451.25" y2="1010.69" stroke="#0c0c0c" stroke-width="1.90" stroke-dasharray="12.00 4.00" stroke-dashoffset="10.37"/>
<line x1="465.59" y1="1011.85" x2="502.01" y2="1013.65" stroke="#0c0c0c" stroke-width="1.90" stroke-dasharray="12.00 4.00" stroke-dashoffset="8.77"/>
<line x1="108.75" y1="752.00" x2="115.77" y2="750.98" stroke="#0c0c0c" stroke-width="1.90"/>
<line x1="129.28" y1="749.51" x2="161.72" y2="747.19" stroke="#0c0c0c" stroke-width="1.90"/>
<line x1="174.95" y1="748.85" x2="212.35" y2="761.35" stroke="#0c0c0c" stroke-width="1.90"/>
<line x1="221.33" y1="769.81" x2="262.77" y2="873.09" stroke="#0c0c0c" stroke-width="1.90"/>
<line x1="268.88" y1="885.18" x2="312.42" y2="955.47" stroke="#0c0c0c" stroke-width="1.90"/>
<line x1="320.87" y1="965.99" x2="357.13" y2="1001.26" stroke="#0c0c0c" stroke-width="1.90"/>
<line x1="368.79" y1="1006.39" x2="405.51" y2="1008.51" stroke="#0c0c0c" stroke-width="1.90"/>
<line x1="419.00" y1="1010.08" x2="451.70" y2="1015.82" stroke="#0c0c0c" stroke-width="1.90"/>
<line x1="465.19" y1="1017.36" x2="502.41" y2="1019.34" stroke="#0c0c0c" stroke-width="1.90"/>
<ellipse cx="122.50" cy="742.50" rx="7.95" ry="7.6" fill="none" stroke="#0c0c0c" stroke-width="1.75"/>
<ellipse cx="168.50" cy="732.40" rx="7.95" ry="7.6" fill="none" stroke="#0c0c0c" stroke-width="1.75"/>
<ellipse cx="218.80" cy="732.30" rx="7.95" ry="7.6" fill="#0c0c0c" stroke="#0c0c0c" stroke-width="1.75"/>
<ellipse cx="265.30" cy="850.50" rx="7.95" ry="7.6" fill="none" stroke="#0c0c0c" stroke-width="1.75"/>
<ellipse cx="316.00" cy="945.75" rx="7.95" ry="7.6" fill="none" stroke="#0c0c0c" stroke-width="1.75"/>
<ellipse cx="362.00" cy="986.80" rx="7.95" ry="7.6" fill="none" stroke="#0c0c0c" stroke-width="1.75"/>
<ellipse cx="412.30" cy="1007.50" rx="7.95" ry="7.6" fill="#0c0c0c" stroke="#0c0c0c" stroke-width="1.75"/>
<ellipse cx="458.40" cy="1009.20" rx="7.95" ry="7.6" fill="#0c0c0c" stroke="#0c0c0c" stroke-width="1.75"/>
<ellipse cx="509.20" cy="1003.60" rx="7.95" ry="7.6" fill="none" stroke="#0c0c0c" stroke-width="1.75"/>
<polygon points="122.50,738.05 130.60,745.50 122.50,752.95 114.40,745.50" fill="none" stroke="#0c0c0c" stroke-width="2.0" stroke-linejoin="round"/>
<polygon points="168.50,728.05 176.60,735.50 168.50,742.95 160.40,735.50" fill="none" stroke="#0c0c0c" stroke-width="2.0" stroke-linejoin="round"/>
<polygon points="218.80,724.85 226.90,732.30 218.80,739.75 210.70,732.30" fill="#fff" stroke="#0c0c0c" stroke-width="2.0" stroke-linejoin="round"/>
<polygon points="265.30,827.55 273.40,835.00 265.30,842.45 257.20,835.00" fill="none" stroke="#0c0c0c" stroke-width="2.0" stroke-linejoin="round"/>
<polygon points="316.00,932.05 324.10,939.50 316.00,946.95 307.90,939.50" fill="none" stroke="#0c0c0c" stroke-width="2.0" stroke-linejoin="round"/>
<polygon points="362.00,987.35 370.10,994.80 362.00,1002.25 353.90,994.80" fill="none" stroke="#0c0c0c" stroke-width="2.0" stroke-linejoin="round"/>
<polygon points="412.30,1000.05 420.40,1007.50 412.30,1014.95 404.20,1007.50" fill="#fff" stroke="#0c0c0c" stroke-width="2.0" stroke-linejoin="round"/>
<polygon points="458.40,1001.75 466.50,1009.20 458.40,1016.65 450.30,1009.20" fill="#fff" stroke="#0c0c0c" stroke-width="2.0" stroke-linejoin="round"/>
<polygon points="509.20,1002.15 517.30,1009.60 509.20,1017.05 501.10,1009.60" fill="none" stroke="#0c0c0c" stroke-width="2.0" stroke-linejoin="round"/>
<polygon points="122.50,742.20 127.30,747.00 122.50,751.80 117.70,747.00" fill="#0c0c0c" stroke="#0c0c0c" stroke-width="1.3" stroke-linejoin="round"/>
<polygon points="168.50,733.70 173.30,738.50 168.50,743.30 163.70,738.50" fill="#0c0c0c" stroke="#0c0c0c" stroke-width="1.3" stroke-linejoin="round"/>
<polygon points="218.80,726.20 223.60,731.00 218.80,735.80 214.00,731.00" fill="#0c0c0c" stroke="#0c0c0c" stroke-width="1.3" stroke-linejoin="round"/>
<polygon points="265.30,786.95 270.10,791.75 265.30,796.55 260.50,791.75" fill="#0c0c0c" stroke="#0c0c0c" stroke-width="1.3" stroke-linejoin="round"/>
<polygon points="316.00,873.30 320.80,878.10 316.00,882.90 311.20,878.10" fill="#0c0c0c" stroke="#0c0c0c" stroke-width="1.3" stroke-linejoin="round"/>
<polygon points="362.00,945.70 366.80,950.50 362.00,955.30 357.20,950.50" fill="#0c0c0c" stroke="#0c0c0c" stroke-width="1.3" stroke-linejoin="round"/>
<polygon points="412.30,1001.50 417.10,1006.30 412.30,1011.10 407.50,1006.30" fill="#0c0c0c" stroke="#0c0c0c" stroke-width="1.3" stroke-linejoin="round"/>
<polygon points="458.40,1006.70 463.20,1011.50 458.40,1016.30 453.60,1011.50" fill="#0c0c0c" stroke="#0c0c0c" stroke-width="1.3" stroke-linejoin="round"/>
<polygon points="509.20,1009.20 514.00,1014.00 509.20,1018.80 504.40,1014.00" fill="#0c0c0c" stroke="#0c0c0c" stroke-width="1.3" stroke-linejoin="round"/>
<circle cx="122.50" cy="750.00" r="5.35" fill="#0c0c0c"/>
<circle cx="168.50" cy="746.70" r="5.35" fill="#0c0c0c"/>
<circle cx="218.80" cy="763.50" r="5.35" fill="#0c0c0c"/>
<circle cx="265.30" cy="879.40" r="5.35" fill="#0c0c0c"/>
<circle cx="316.00" cy="961.25" r="5.35" fill="#0c0c0c"/>
<circle cx="362.00" cy="1006.00" r="5.35" fill="#0c0c0c"/>
<circle cx="412.30" cy="1008.90" r="5.35" fill="#0c0c0c"/>
<circle cx="458.40" cy="1017.00" r="5.35" fill="#0c0c0c"/>
<circle cx="509.20" cy="1019.70" r="5.35" fill="#0c0c0c"/>
<line x1="109.5" y1="34.55" x2="112.3" y2="34.5" stroke="#0c0c0c" stroke-width="1.4"/>
<text transform="translate(434.7,75.7) scale(0.985,1)" class="pl" style="font-size:63px">A</text>
<text transform="translate(439.0,427.7) scale(0.963,1)" class="pl" style="font-size:62.5px">B</text>
<text transform="translate(434.0,778.8) scale(0.953,1)" class="pl" style="font-size:65px">C</text>
<text transform="translate(20.30,175.00) rotate(-90) scale(0.85,1)" text-anchor="middle" class="yt" style="letter-spacing:2.10px">REMAINING Va, %</text>
<text transform="translate(20.90,525.00) rotate(-90) scale(0.85,1)" text-anchor="middle" class="yt" style="letter-spacing:2.40px">REMAINING Va, %</text>
<text transform="translate(21.60,873.30) rotate(-90) scale(0.85,1)" text-anchor="middle" class="yt" style="letter-spacing:2.65px">REMAINING Va, %</text>
<text x="104.00" y="1073" text-anchor="middle" class="xl">0.1</text>
<text x="201.20" y="1073" text-anchor="middle" class="xl">1</text>
<text x="298.10" y="1073" text-anchor="middle" class="xl">10</text>
<text x="394.00" y="1073" text-anchor="middle" class="xl">100</text>
<text x="488.30" y="1073" text-anchor="middle" class="xl">1000</text>
<text x="138.0" y="1117.3" class="xt" xml:space="preserve">APC or APC/PTGla,  pM</text>
</g>
</svg>
</body></html>
